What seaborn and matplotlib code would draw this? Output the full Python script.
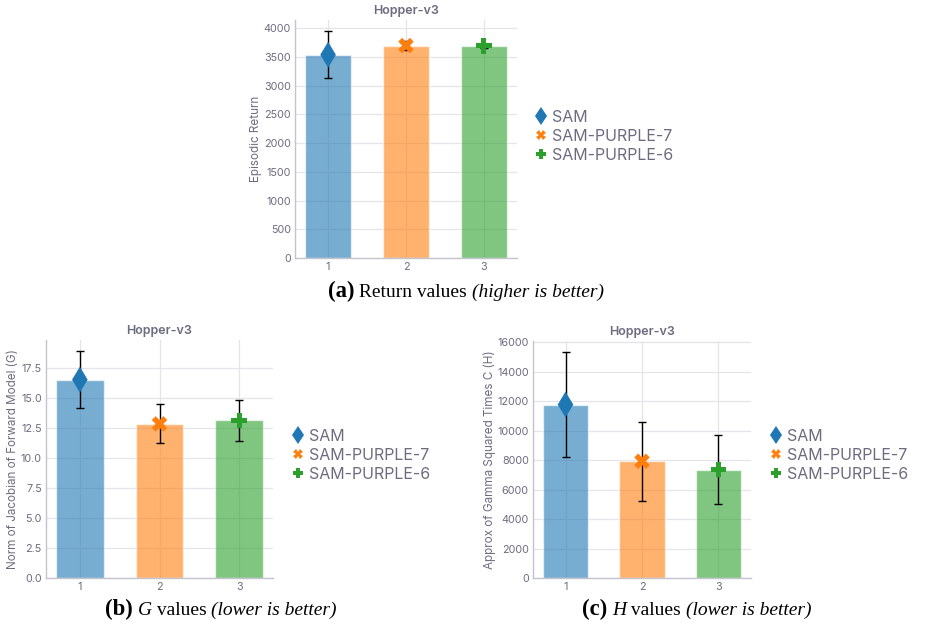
import matplotlib
matplotlib.use("Agg")
import matplotlib.pyplot as plt
from matplotlib.lines import Line2D
import numpy as np
import pandas as pd
import seaborn as sns

# ---- data -------------------------------------------------------------
methods = ["SAM", "SAM-PURPLE-7", "SAM-PURPLE-6"]
runs = [1, 2, 3]

return_mean = [3540, 3700, 3695]
return_err = [410, 80, 40]

g_mean = [16.5, 12.82, 13.11]
g_err = [2.38, 1.63, 1.73]

h_mean = [11780, 7930, 7360]
h_err = [3590, 2690, 2360]

env_title = "Hopper-v3"

# ---- style ------------------------------------------------------------
sns.set_theme(style="white")
plt.rcParams["font.family"] = ["Inter", "DejaVu Sans"]

TEXT = "#6c6c80"
GRID = "#e4e4ea"
SPINE = "#c4c4cf"
palette = dict(zip(methods, ["#1f77b4", "#ff7f0e", "#2ca02c"]))
markers = dict(zip(methods, ["d", "X", "P"]))
marker_area = dict(zip(methods, [175, 125, 125]))

fig = plt.figure(figsize=(9.25, 6.24), dpi=100)
W, H = 925, 624


def axes_px(x0, y0, x1, y1):
    return fig.add_axes([x0 / W, 1 - y1 / H, (x1 - x0) / W, (y1 - y0) / H])


def draw_panel(ax, mean, err, ylabel, ylim, yticks, yfmt):
    df = pd.DataFrame({"run": runs, "method": methods,
                       "value": mean, "err": err})
    ax.set_axisbelow(True)
    ax.grid(True, color=GRID, linewidth=0.9)
    sns.barplot(data=df, x="run", y="value", hue="method", palette=palette,
                native_scale=True, dodge=False, errorbar=None, width=0.6,
                saturation=1, alpha=0.6, edgecolor=(1, 1, 1, 0.5),
                linewidth=1.0, legend=False, ax=ax)
    ax.errorbar(df["run"], df["value"], yerr=df["err"], fmt="none",
                ecolor="black", elinewidth=1.0, capsize=2.6, capthick=1.0,
                zorder=3)
    sns.scatterplot(data=df, x="run", y="value", hue="method", style="method",
                    size="method", sizes=marker_area, markers=markers,
                    palette=palette, linewidth=0, legend=False, zorder=4,
                    ax=ax)
    ax.set_xlim(0.575, 3.425)
    ax.set_ylim(*ylim)
    ax.set_xticks(runs)
    ax.set_xticklabels([str(r) for r in runs])
    ax.set_yticks(yticks)
    ax.set_yticklabels([yfmt(v) for v in yticks])
    ax.set_xlabel("")
    ax.set_ylabel(ylabel, color=TEXT, fontsize=8.4, labelpad=1)
    ax.set_title(env_title, color=TEXT, fontsize=9, fontweight="semibold",
                 pad=4)
    ax.tick_params(axis="both", length=0, labelsize=7.8, colors=TEXT, pad=3)
    for side in ("top", "right"):
        ax.spines[side].set_visible(False)
    for side in ("left", "bottom"):
        ax.spines[side].set_color(SPINE)
        ax.spines[side].set_linewidth(1.0)


def add_legend(ax, x_px, y_px):
    handles = [Line2D([], [], linestyle="none", marker=markers[m],
                      color=palette[m], markeredgewidth=0,
                      markersize=(9.5 if markers[m] == "d" else 7.0))
               for m in methods]
    ax.legend(handles, methods, loc="upper left",
              bbox_to_anchor=(x_px / W, 1 - y_px / H),
              bbox_transform=fig.transFigure, frameon=False,
              fontsize=11.5, labelcolor=TEXT, handlelength=0.7,
              handletextpad=0.35, labelspacing=0.24, borderpad=0,
              borderaxespad=0)


def caption(x_px, y_px, parts):
    renderer = fig.canvas.get_renderer()
    x = x_px
    for text, kw in parts:
        t = fig.text(x / W, 1 - y_px / H, text, va="baseline", ha="left",
                     family="Liberation Serif", color="black", **kw)
        bb = t.get_window_extent(renderer)
        x = bb.x1 * W / fig.bbox.width


# (a) episodic return
ax_a = axes_px(295, 20, 517, 258)
draw_panel(ax_a, return_mean, return_err, "Episodic Return",
           (0, 4145), np.arange(0, 4001, 500), lambda v: f"{int(v)}")
add_legend(ax_a, 535, 110)

# (b) G values
ax_b = axes_px(46, 340, 273, 578)
draw_panel(ax_b, g_mean, g_err, "Norm of Jacobian of Forward Model (G)",
           (0, 19.8), np.arange(0, 17.6, 2.5), lambda v: f"{v:.1f}")
add_legend(ax_b, 292, 429)

# (c) H values
ax_c = axes_px(533, 341, 751, 578)
draw_panel(ax_c, h_mean, h_err, "Approx of Gamma Squared Times C (H)",
           (0, 16100), np.arange(0, 16001, 2000), lambda v: f"{int(v)}")
add_legend(ax_c, 770, 429)

# sub-figure captions
big = dict(fontsize=16.4, fontweight="bold")
body = dict(fontsize=14)
slant = dict(fontsize=14, style="italic")
caption(328, 297, [("(a)", big), (" Return values ", body),
                   ("(higher is better)", slant)])
caption(105, 615, [("(b)", big), (" ", body), ("G", slant),
                   (" values ", body), ("(lower is better)", slant)])
caption(582, 615, [("(c)", big), (" ", body), ("H", slant),
                   (" values ", body), ("(lower is better)", slant)])

fig.savefig("out.png", dpi=100)
